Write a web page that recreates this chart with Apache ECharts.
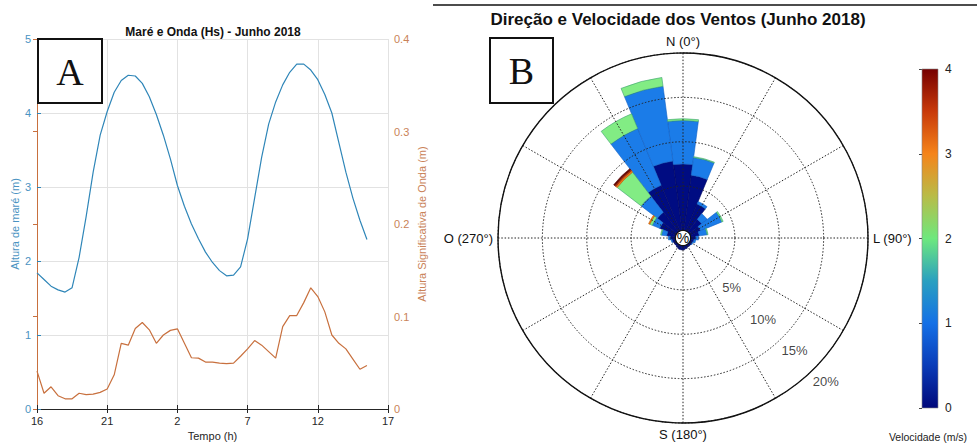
<!DOCTYPE html>
<html><head><meta charset="utf-8">
<script src="https://cdn.jsdelivr.net/npm/echarts@6/dist/echarts.min.js"></script>
<style>html,body{margin:0;padding:0;background:#fff}#c{width:977px;height:443px}</style>
</head><body><div id="c"></div>
<script>
// ---------- Panel A data ----------
const tempoH = [0,0.5,1,1.5,2,2.5,3,3.5,4,4.5,5,5.5,6,6.5,7,7.5,8,8.5,9,9.5,10,10.5,11,11.5,12,12.5,13,13.5,14,14.5,15,15.5,16,16.5,17,17.5,18,18.5,19,19.5,20,20.5,21,21.5,22,22.5,23,23.5];
const mareM = [1.84,1.75,1.66,1.61,1.58,1.64,2.05,2.6,3.2,3.7,4.02,4.28,4.44,4.51,4.50,4.40,4.22,3.98,3.7,3.38,3.02,2.74,2.5,2.3,2.12,1.98,1.87,1.80,1.81,1.92,2.3,2.85,3.4,3.85,4.15,4.38,4.55,4.66,4.66,4.58,4.45,4.25,4.0,3.6,3.2,2.85,2.55,2.29];
const ondaHs = [0.041,0.017,0.024,0.0144,0.011,0.011,0.017,0.0155,0.016,0.018,0.0216,0.037,0.071,0.069,0.087,0.0935,0.0856,0.071,0.080,0.085,0.0867,0.071,0.0554,0.055,0.0507,0.0507,0.0496,0.049,0.0496,0.057,0.065,0.074,0.069,0.062,0.055,0.089,0.101,0.101,0.115,0.131,0.1216,0.105,0.080,0.071,0.065,0.054,0.043,0.047];
const horaInicial = 16;

// ---------- Panel B data ----------
const direcoes = ['0','15','30','45','60','75','90','105','120','135','150','165','180','195','210','225','240','255','270','285','300','315','330','345'];
const vel0 = [7.5,6.3,3.3,1.8,1.3,1.0,0.6,0.4,0.3,0.3,0.3,0.4,0.5,0.5,0.4,0.3,0.3,0.4,0.6,1.0,2.0,2.8,5.6,7.9];
const vel1 = [4.9,2.0,0.3,0.8,2.6,0.9,0.3,0.2,0.1,0,0,0,0,0,0,0,0,0.1,0.2,0.6,0.9,2.3,6.9,8.5];
const vel2 = [0.2,0.1,0,0,0.15,0.1,0,0,0,0,0,0,0,0,0,0,0,0,0,0.1,0.3,3.4,1.8,1.0];
const vel3 = [0,0,0,0,0,0,0,0,0,0,0,0,0,0,0,0,0,0,0,0,0.15,0.2,0,0];
const vel4 = [0,0,0,0,0,0,0,0,0,0,0,0,0,0,0,0,0,0,0,0,0,0.15,0,0];
const vel5 = [0,0,0,0,0,0,0,0,0,0,0,0,0,0,0,0,0,0,0,0,0,0.15,0,0];
const pctTicks = [5,10,15,20];
const cardinais = {0:'N (0°)',90:'L (90°)',180:'S (180°)',270:'O (270°)'};

const FONT = '"Liberation Sans", Arial, sans-serif';
const azul = '#2f86b8', azulTxt = '#4a93c2', laranja = '#c8703e', laranjaTxt = '#c98258';
const classes = [
  {name:'0-1', data:vel0, color:'#000c82', border:'#000660'},
  {name:'1-2', data:vel1, color:'#1b7ce8', border:'#1060c4'},
  {name:'2-2.5', data:vel2, color:'#82ec84', border:'#3aa070'},
  {name:'2.5-3', data:vel3, color:'#f07a12', border:'#c05a08'},
  {name:'3-3.5', data:vel4, color:'#b8320a', border:'#8a2006'},
  {name:'3.5-4', data:vel5, color:'#6a0600', border:'#4a0000'}
];

const chart = echarts.init(document.getElementById('c'), null, {renderer:'svg'});
const dotted = {color:'#222', type:[1.5,1.8], width:1};

const option = {
  animation:false,
  textStyle:{fontFamily:FONT},
  title:[
    {text:'Maré e Onda (Hs) - Junho 2018', left:213, top:26, textAlign:'center', padding:0,
     textStyle:{fontSize:12, fontWeight:'bold', color:'#111', fontFamily:FONT}},
    {text:'Direção e Velocidade dos Ventos (Junho 2018)', left:678, top:11, textAlign:'center', padding:0,
     textStyle:{fontSize:17, fontWeight:'bold', color:'#111', fontFamily:FONT}}
  ],
  grid:[
    {left:37, top:39, width:351, height:370, containLabel:false, outerBoundsMode:'none'},
    {left:922, top:69, width:16, height:339, containLabel:false, outerBoundsMode:'none'}
  ],
  xAxis:[
    {gridIndex:0, type:'value', min:0, max:25, interval:5,
     axisLine:{show:true, lineStyle:{color:'#262626'}},
     axisTick:{show:true, inside:true, length:4, lineStyle:{color:'#262626'}},
     axisLabel:{formatter:v=>String((horaInicial+v)%24), color:'#262626', fontSize:11, margin:6},
     splitLine:{show:true, lineStyle:{color:'#e2e2e2'}},
     name:'Tempo (h)', nameLocation:'middle', nameGap:20, nameTextStyle:{color:'#262626', fontSize:11}},
    {gridIndex:0, type:'value', position:'top', min:0, max:25, interval:5,
     axisLine:{show:true, lineStyle:{color:'#262626'}},
     axisTick:{show:true, inside:true, length:4, lineStyle:{color:'#262626'}},
     axisLabel:{show:false}, splitLine:{show:false}},
    {gridIndex:1, type:'value', min:0, max:1, show:false}
  ],
  yAxis:[
    {gridIndex:0, type:'value', min:0, max:5, interval:1,
     axisLine:{show:true, lineStyle:{color:azul}},
     axisTick:{show:true, inside:true, length:4, lineStyle:{color:azul}},
     axisLabel:{color:azulTxt, fontSize:11, margin:6},
     splitLine:{show:true, lineStyle:{color:'#e2e2e2'}},
     name:'Altura de maré (m)', nameLocation:'middle', nameGap:10, nameTextStyle:{color:azulTxt, fontSize:11}},
    {gridIndex:0, type:'value', position:'right', min:0, max:0.4, interval:0.1,
     axisLine:{show:true, lineStyle:{color:laranja}},
     axisTick:{show:true, inside:true, length:4, lineStyle:{color:laranja}},
     axisLabel:{color:laranjaTxt, fontSize:11, margin:6},
     splitLine:{show:false},
     name:'Altura Significativa de Onda (m)', nameLocation:'middle', nameRotate:90, nameGap:28,
     nameTextStyle:{color:laranjaTxt, fontSize:11}},
    {gridIndex:1, type:'value', position:'right', min:0, max:4, interval:1,
     axisLine:{show:false}, axisTick:{show:true, inside:true, length:3, lineStyle:{color:'#444'}},
     axisLabel:{color:'#222', fontSize:12, margin:7}, splitLine:{show:false}}
  ],
  polar:[
    {center:[683,238], radius:[7.5,185]},
    {center:[683,238], radius:[7.5,185]}
  ],
  angleAxis:[
    {polarIndex:0, type:'value', min:0, max:360, interval:30, startAngle:90, clockwise:true, z:5,
     axisLine:{show:true, lineStyle:{color:'#111', width:1.4}},
     axisTick:{show:false},
     splitLine:{show:true, lineStyle:dotted},
     axisLabel:{formatter:v=>cardinais[v]||'', color:'#111', fontSize:13, margin:5}},
    {polarIndex:1, type:'category', data:direcoes, startAngle:97.5, clockwise:true, boundaryGap:true, show:false}
  ],
  radiusAxis:[
    {polarIndex:0, type:'value', min:0, max:20, interval:5, z:5,
     axisLine:{show:false}, axisTick:{show:false}, axisLabel:{show:false},
     splitLine:{show:true, lineStyle:dotted}},
    {polarIndex:1, type:'value', min:0, max:20, show:false}
  ],
  series:[
    {type:'line', xAxisIndex:0, yAxisIndex:0, showSymbol:false, symbol:'none',
     data:tempoH.map((t,i)=>[t, mareM[i]]), lineStyle:{color:azul, width:1.2}},
    {type:'line', xAxisIndex:0, yAxisIndex:1, showSymbol:false, symbol:'none',
     data:tempoH.map((t,i)=>[t, ondaHs[i]]), lineStyle:{color:laranja, width:1.2}},
    ...classes.map(c=>({
      type:'bar', name:c.name, coordinateSystem:'polar', polarIndex:1, stack:'vento',
      barCategoryGap:'0%', data:c.data.map(v=>v>0?v:'-'), silent:true,
      itemStyle:{color:c.color, borderColor:c.border, borderWidth:0.6}
    })),
    {type:'scatter', coordinateSystem:'polar', polarIndex:0, symbolSize:0, silent:true, z:6,
     data:pctTicks.map(p=>[p,135]),
     label:{show:true, position:'inside', offset:[12,13], formatter:p=>p.value[0]+'%', color:'#111', fontSize:13}}
  ],
  graphic:[
    {type:'line', shape:{x1:433, y1:5, x2:977, y2:5}, style:{stroke:'#111', lineWidth:1.5}},
    {type:'rect', shape:{x:38, y:39, width:64, height:64}, style:{fill:'#fff', stroke:'#111', lineWidth:2}, z:100},
    {type:'text', x:70, y:72, z:101, style:{text:'A', font:'38px "Liberation Serif", "DejaVu Serif", serif', fill:'#111', align:'center', verticalAlign:'middle', textAlign:'center', textVerticalAlign:'middle'}},
    {type:'rect', shape:{x:490, y:38, width:63, height:65}, style:{fill:'#fff', stroke:'#111', lineWidth:2}, z:100},
    {type:'text', x:521.5, y:71, z:101, style:{text:'B', font:'38px "Liberation Serif", "DejaVu Serif", serif', fill:'#111', align:'center', verticalAlign:'middle', textAlign:'center', textVerticalAlign:'middle'}},
    {type:'circle', shape:{cx:683, cy:238, r:7}, style:{fill:'#fff'}, z:90},
    {type:'text', x:683, y:238, z:101, style:{text:'%', font:'14px '+FONT, fill:'#111', align:'center', verticalAlign:'middle', textAlign:'center', textVerticalAlign:'middle'}},
    {type:'rect', shape:{x:922, y:69, width:16, height:339}, z:50,
     style:{stroke:'#888', lineWidth:0.6,
       fill:new echarts.graphic.LinearGradient(0,0,0,1,[
         {offset:0, color:'#760000'},
         {offset:0.125, color:'#c83a0a'},
         {offset:0.25, color:'#f5841a'},
         {offset:0.375, color:'#b8bc48'},
         {offset:0.5, color:'#6ee87e'},
         {offset:0.625, color:'#2aa0c0'},
         {offset:0.75, color:'#1470e6'},
         {offset:0.875, color:'#0a3cb8'},
         {offset:1, color:'#00087a'}
       ])}},
    {type:'text', x:928, y:437, z:101, style:{text:'Velocidade (m/s)', font:'10.5px '+FONT, fill:'#222', align:'center', verticalAlign:'middle', textAlign:'center', textVerticalAlign:'middle'}}
  ]
};
chart.setOption(option);
</script></body></html>
